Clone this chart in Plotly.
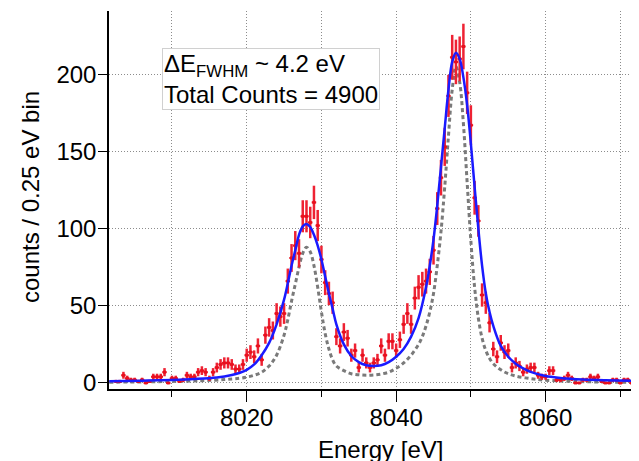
import numpy as np
import plotly.graph_objects as go

# measured spectrum: bin centres start at 8002.5 eV, 0.5 eV apart
bin_start = 8002.5
bin_step = 0.5
counts = [
    1, 1, 5, 3, 2, 2, 1, 2, 0, 1, 4, 4, 4, 7, 0, 3, 3, 1, 2, 5,
    4, 4, 7, 8, 7, 3, 7, 10, 12, 13, 13, 12, 9, 9, 12, 18, 20, 17, 24, 15,
    31, 36, 34, 45, 43, 45, 66, 81, 89, 84, 108, 108, 104, 117, 102, 80, 65, 58, 52, 30,
    24, 33, 29, 18, 21, 10, 18, 13, 10, 13, 15, 24, 18, 27, 27, 21, 28, 38, 45, 38,
    55, 62, 64, 66, 72, 86, 113, 133, 153, 186, 211, 208, 210, 218, 188, 167, 120, 105, 57, 52,
    39, 22, 17, 26, 20, 21, 10, 13, 11, 7, 9, 10, 10, 5, 4, 4, 8, 8, 2, 2,
    3, 5, 3, 0, 0, 2, 2, 4, 3, 4, 1, 0, 0, 2, 2, 0, 2, 2, 0, 2,
]
counts_err = np.sqrt(counts)

# total fit (blue)
fit_e = [8001.6, 8006, 8010, 8013, 8016, 8018, 8019, 8020, 8021, 8022, 8023, 8024, 8025,
         8026, 8026.5, 8027, 8027.5, 8028, 8028.5, 8029, 8029.5, 8030, 8030.5, 8031,
         8031.5, 8032, 8033, 8034, 8035, 8036, 8037, 8038, 8039, 8040, 8041, 8042, 8043,
         8044, 8044.5, 8045, 8045.5, 8046, 8046.5, 8047, 8047.5, 8048, 8048.5, 8049,
         8049.5, 8050, 8050.5, 8051, 8051.5, 8052, 8052.5, 8053, 8054, 8055, 8056, 8057,
         8058, 8060, 8062, 8065, 8068, 8072.5]
fit_y = [1.2, 1.5, 2.0, 2.6, 3.6, 5.2, 6.5, 8.5, 12, 18, 26, 38, 54,
         76, 86, 96, 101.5, 103, 101, 96, 89, 80, 69, 58,
         48, 38, 25, 17.5, 13.5, 11.5, 11, 11.5, 13.5, 17, 22, 30, 42,
         62, 76, 93, 115, 140, 165, 190, 208, 214, 210, 198,
         180, 155, 127, 100, 76, 58, 46, 37, 24, 17, 12.5, 9.5,
         7.2, 4.5, 3.3, 2.3, 1.8, 1.4]

# intrinsic line shape (grey dotted)
nat_e = [8001.6, 8006, 8010, 8014, 8017, 8019, 8020, 8021, 8022, 8023, 8024, 8025,
         8025.5, 8026, 8026.5, 8027, 8027.5, 8028, 8028.5, 8029, 8029.5, 8030, 8030.5,
         8031, 8031.5, 8032, 8033, 8034, 8035, 8036, 8037, 8038, 8039, 8040, 8041, 8042,
         8043, 8043.5, 8044, 8044.5, 8045, 8045.5, 8046, 8046.5, 8047, 8047.5, 8048,
         8048.5, 8049, 8049.5, 8050, 8050.5, 8051, 8051.5, 8052, 8052.5, 8053, 8054,
         8055, 8056, 8058, 8060, 8064, 8068, 8072.5]
nat_y = [0.5, 0.7, 1.0, 1.5, 2.2, 3.0, 3.8, 5.0, 7.0, 11, 18, 31,
         41, 53, 64, 75, 84, 88, 85, 76, 62, 46, 32,
         22, 15, 11, 8, 6, 5.3, 5.0, 5.2, 5.8, 7, 9.5, 13, 18,
         25, 30, 37, 46, 58, 76, 98, 127, 160, 190, 205,
         195, 168, 130, 92, 62, 42, 29, 21, 16, 12.5, 8.5,
         6, 4.5, 2.8, 1.8, 1.0, 0.6, 0.4]

font = "Liberation Sans, Arial, sans-serif"
grid = dict(showgrid=True, gridcolor="#8c8c8c", griddash="1px,2px", gridwidth=1)

fig = go.Figure()
fig.add_trace(go.Scatter(
    x=nat_e, y=nat_y, mode="lines", line_shape="spline",
    line=dict(color="#7a7a7a", width=3, dash="4px,3px"),
))
fig.add_trace(go.Scatter(
    x0=bin_start, dx=bin_step, y=counts, mode="markers",
    marker=dict(color="#e8101e", size=3, symbol="square"),
    error_y=dict(type="data", array=counts_err, visible=True, width=0,
                 thickness=2.5, color="#ee2233"),
    error_x=dict(type="constant", value=0.3, visible=True, width=0,
                 thickness=2, color="#e8101e"),
))
fig.add_trace(go.Scatter(
    x=fit_e, y=fit_y, mode="lines", line_shape="spline",
    line=dict(color="#1a1aff", width=2.5),
))

fig.add_annotation(
    xref="paper", yref="paper", x=0.1, y=0.902, xanchor="left", yanchor="top",
    text="ΔE<sub>FWHM</sub> ~ 4.2 eV<br>Total Counts = 4900",
    align="left", showarrow=False, font=dict(size=24, color="black", family=font),
    bgcolor="white", bordercolor="#d0d0d0", borderwidth=1, borderpad=1,
)
# axis titles placed as annotations so the plot area stays fixed
fig.add_annotation(
    xref="paper", yref="paper", x=0.513, y=-0.159, xanchor="center", yanchor="middle",
    text="Energy [eV]", showarrow=False, font=dict(size=24, color="black", family=font),
)
fig.add_annotation(
    xref="paper", yref="paper", x=-0.147, y=0.508, xanchor="center", yanchor="middle",
    text="counts / 0.25 eV bin", textangle=-90, showarrow=False,
    font=dict(size=24, color="black", family=font),
)

# the page puts the figure 8 px in from the top-left corner
fig.update_layout(
    width=631, height=453,
    margin=dict(l=101, r=0, t=3, b=72),
    plot_bgcolor="white", paper_bgcolor="white",
    showlegend=False,
    font=dict(family=font, size=24, color="black"),
)
fig.update_xaxes(
    range=[8001.57, 8072.5], tick0=8000, dtick=20, automargin=False,
    ticks="outside", ticklen=11, tickcolor="black", tickwidth=1,
    ticklabelstandoff=-5,
    showline=True, linecolor="black", linewidth=1.5,
    minor=dict(dtick=10, tick0=8000, ticks="outside", ticklen=6, tickcolor="black", **grid),
    zeroline=False, **grid,
)
fig.update_yaxes(
    range=[-3.9, 241], tick0=0, dtick=50, automargin=False,
    ticks="outside", ticklen=9, tickcolor="black", tickwidth=1,
    ticklabelstandoff=-3,
    showline=True, linecolor="black", linewidth=1.5,
    zeroline=False, **grid,
)

fig.write_html("out.html")
